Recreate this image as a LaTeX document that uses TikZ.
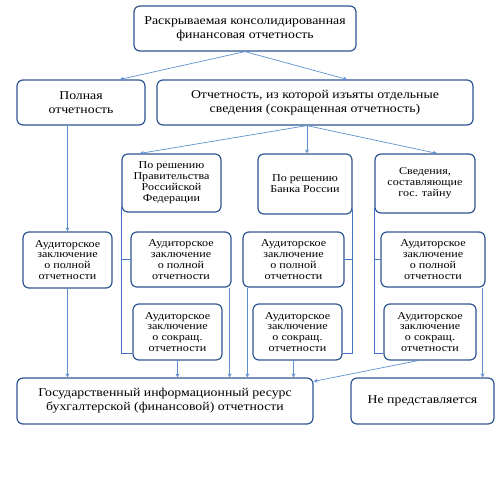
\documentclass[tikz,border=0pt]{standalone}
\usepackage{fontspec}
\setmainfont{Liberation Serif}[FakeStretch=1.15]
\usetikzlibrary{calc,arrows.meta}
\definecolor{boxc}{HTML}{2F5592}
\definecolor{arrc}{HTML}{5F8FD0}
\definecolor{brc}{HTML}{4472C4}
\tikzset{
  box/.style={draw=boxc, line width=1.2pt, rounded corners=6pt, fill=white, align=center, inner sep=1pt,
    font=\fontsize{12}{14}\selectfont},
  sbox/.style={box, font=\fontsize{10.5}{10.9}\selectfont},
  arr/.style={draw=arrc, line width=0.7pt, -{Stealth[length=4pt,width=4pt]}},
  br/.style={draw=brc, line width=1.5pt},
}
\begin{document}
\begin{tikzpicture}[x=1pt,y=-1pt]
\useasboundingbox (0,0) rectangle (503,501);
\node[box, minimum width=222pt, minimum height=45pt] (top) at (245,28.5) {Раскрываемая консолидированная\\финансовая отчетность};
\node[box, minimum width=128pt, minimum height=45pt] (full) at (81,102.5) {Полная\\отчетность};
\node[box, minimum width=316pt, minimum height=45pt] (abr) at (315,102.5) {Отчетность, из которой изъяты отдельные\\сведения (сокращенная отчетность)};
\node[sbox, minimum width=99pt, minimum height=58pt] (pr) at (171.5,183) {По решению\\Правительства\\Российской\\Федерации};
\node[sbox, minimum width=94pt, minimum height=60pt] (bank) at (305,184) {По решению\\Банка России};
\node[sbox, minimum width=100pt, minimum height=59pt] (sved) at (425,183.5) {Сведения,\\составляющие\\гос. тайну};
\node[sbox, minimum width=89pt, minimum height=56pt] (a0) at (67.5,260) {Аудиторское\\заключение\\о полной\\отчетности};
\node[sbox, minimum width=100pt, minimum height=55pt] (a1) at (181,259.5) {Аудиторское\\заключение\\о полной\\отчетности};
\node[sbox, minimum width=89pt, minimum height=56pt] (s1) at (177.5,332) {Аудиторское\\заключение\\о сокращ.\\отчетности};
\node[sbox, minimum width=101pt, minimum height=55pt] (a2) at (293.5,259.5) {Аудиторское\\заключение\\о полной\\отчетности};
\node[sbox, minimum width=89pt, minimum height=56pt] (s2) at (297.5,332) {Аудиторское\\заключение\\о сокращ.\\отчетности};
\node[sbox, minimum width=104pt, minimum height=55pt] (a3) at (433,259.5) {Аудиторское\\заключение\\о полной\\отчетности};
\node[sbox, minimum width=92pt, minimum height=56pt] (s3) at (430,332) {Аудиторское\\заключение\\о сокращ.\\отчетности};
\node[box, minimum width=296pt, minimum height=46pt] (gir) at (165,401) {Государственный информационный ресурс\\бухгалтерской (финансовой) отчетности};
\node[box, minimum width=143pt, minimum height=46pt] (ne) at (422.5,401) {Не представляется};
% top level arrows
\draw[arr] (top.south) -- ($(full.north)+(39,0)$);
\draw[arr] (top.south) -- ($(abr.north)+(32,0)$);
\draw[arr] ($(abr.south)+(-8,0)$) -- ($(pr.north)+(-31.5,0)$);
\draw[arr] ($(abr.south)+(-8,0)$) -- ($(bank.north)+(2,0)$);
\draw[arr] ($(abr.south)+(-8,0)$) -- ($(sved.north)+(12,0)$);
\draw[arr] (a0.north |- full.south) -- (a0.north);
% brackets
\draw[br] ($(pr.south west)+(0,-6)$) -- (pr.west |- {$(s1.south west)+(0,-7)$}) -- ($(s1.south west)+(0,-7)$);
\draw[br] (pr.west |- a1.west) -- (a1.west);
\draw[br] ($(bank.south east)+(0,-6)$) -- (bank.east |- {$(s2.south east)+(0,-7)$}) -- ($(s2.south east)+(0,-7)$);
\draw[br] (bank.east |- a2.east) -- (a2.east);
\draw[br] ($(sved.south west)+(0,-6)$) -- (sved.west |- {$(s3.south west)+(0,-7)$}) -- ($(s3.south west)+(0,-7)$);
\draw[br] (sved.west |- a3.west) -- (a3.west);
% to bottom
\draw[arr] (a0.south) -- (a0.south |- gir.north);
\draw[arr] (s1.south) -- (s1.south |- gir.north);
\draw[arr] ($(a1.south east)+(-2,0)$) -- ({$(a1.south east)+(-2,0)$} |- gir.north);
\draw[arr] ($(a2.south west)+(5,0)$) -- ({$(a2.south west)+(5,0)$} |- gir.north);
\draw[arr] ($(s2.south)+(-4,0)$) -- ({$(s2.south)+(-4,0)$} |- gir.north);
\draw[arr] ($(s3.south)+(-12,0)$) -- ($(gir.north east)+(0,4)$);
\draw[arr] ($(a3.south east)+(-3,0)$) -- ({$(a3.south east)+(-3,0)$} |- ne.north);
\end{tikzpicture}
\end{document}
